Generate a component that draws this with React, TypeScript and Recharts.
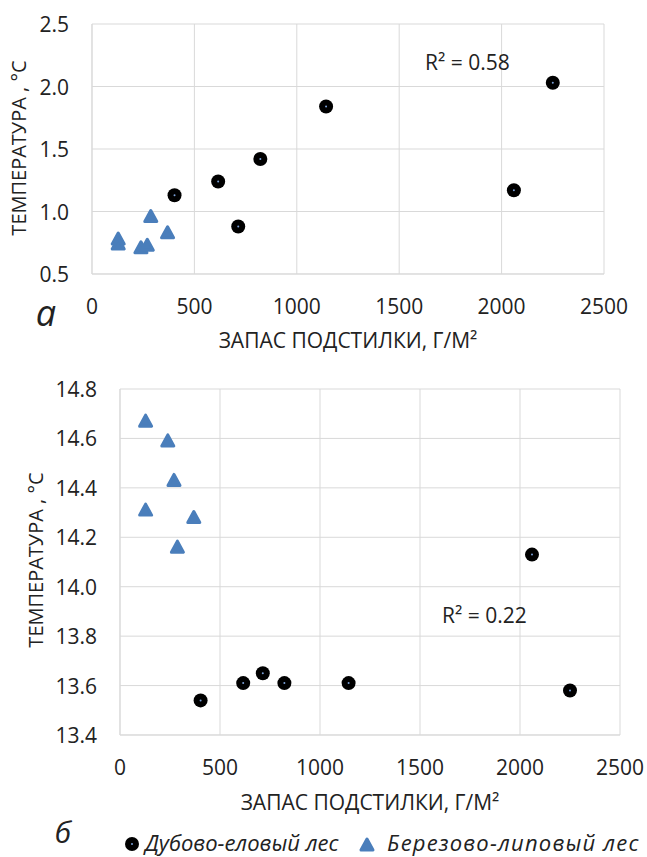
import React from 'react';
import { ScatterChart, Scatter, XAxis, YAxis, CartesianGrid } from 'recharts';

// Litter stock, g/m2 (same plots in both panels)
const oakSpruceX = [403, 616, 714, 822, 1143, 2060, 2250];
const birchLimeX = [128, 239, 270, 128, 369, 287];

// Panel a: temperature difference, °C
const oakSpruceA = [1.13, 1.24, 0.88, 1.42, 1.84, 1.17, 2.03];
const birchLimeA = [0.78, 0.71, 0.73, 0.74, 0.83, 0.96];

// Panel б: temperature, °C
const oakSpruceB = [13.54, 13.61, 13.65, 13.61, 13.61, 14.13, 13.58];
const birchLimeB = [14.67, 14.59, 14.43, 14.31, 14.28, 14.16];

const xTicks = [0, 500, 1000, 1500, 2000, 2500];
const yTicksA = [0.5, 1.0, 1.5, 2.0, 2.5];
const yTicksB = [13.4, 13.6, 13.8, 14.0, 14.2, 14.4, 14.6, 14.8];

const FONT = '"Open Sans", "Noto Sans", sans-serif';
const TXT = '#222';
const GRID = '#d9d9d9';
const BLUE = '#4a7ebb';

const toPoints = (xs: number[], ys: number[]) => xs.map((x, i) => ({ x, y: ys[i] }));

const Dot = ({ cx, cy }: any) => (
  <g>
    <circle cx={cx} cy={cy} r={7} fill="#000" />
    <circle cx={cx} cy={cy} r={1} fill="#7aa0d8" />
  </g>
);

const Tri = ({ cx, cy }: any) => (
  <path
    d={`M${cx},${cy - 6} L${cx + 6},${cy + 5} L${cx - 6},${cy + 5} Z`}
    fill={BLUE}
    stroke={BLUE}
    strokeWidth={3}
    strokeLinejoin="round"
  />
);

const XTick = ({ x, y, payload }: any) => (
  <text x={x} y={y + 32} textAnchor="middle" dominantBaseline="central" fontSize={21} fontFamily={FONT} fill={TXT}>
    {payload.value}
  </text>
);

const YTick = ({ x, y, payload }: any) => (
  <text x={x - 23} y={y} textAnchor="end" dominantBaseline="central" fontSize={21} fontFamily={FONT} fill={TXT}>
    {Number(payload.value).toFixed(1)}
  </text>
);

const abs = (style: React.CSSProperties): React.CSSProperties => ({
  position: 'absolute',
  fontFamily: FONT,
  color: TXT,
  whiteSpace: 'nowrap',
  lineHeight: 1,
  ...style,
});

function Panel({ dots, tris, yTicks, domain, height, yWidth, right }: any) {
  return (
    <ScatterChart width={647} height={height} margin={{ top: 24, right, bottom: 0, left: 0 }}>
      <CartesianGrid stroke={GRID} />
      <XAxis
        type="number"
        dataKey="x"
        domain={[0, 2500]}
        ticks={xTicks}
        tick={<XTick />}
        tickSize={0}
        tickMargin={0}
        tickLine={false}
        axisLine={{ stroke: GRID }}
        height={46}
      />
      <YAxis
        type="number"
        dataKey="y"
        domain={domain}
        ticks={yTicks}
        tick={<YTick />}
        tickSize={0}
        tickMargin={0}
        tickLine={false}
        axisLine={{ stroke: GRID }}
        width={yWidth}
      />
      <Scatter data={dots} shape={<Dot />} isAnimationActive={false} />
      <Scatter data={tris} shape={<Tri />} isAnimationActive={false} />
    </ScatterChart>
  );
}

export default function App() {
  return (
    <div style={{ position: 'absolute', left: 0, top: 0, width: 647, height: 857, background: '#fff', overflow: 'hidden' }}>
      {/* panel a: plot 92..604 x 24..274 */}
      <div style={{ position: 'absolute', left: 0, top: 0 }}>
        <Panel
          dots={toPoints(oakSpruceX, oakSpruceA)}
          tris={toPoints(birchLimeX, birchLimeA)}
          yTicks={yTicksA}
          domain={[0.5, 2.5]}
          height={320}
          yWidth={92}
          right={43}
        />
      </div>
      {/* panel б: plot 120..620 x 389..735 */}
      <div style={{ position: 'absolute', left: 0, top: 365 }}>
        <Panel
          dots={toPoints(oakSpruceX, oakSpruceB)}
          tris={toPoints(birchLimeX, birchLimeB)}
          yTicks={yTicksB}
          domain={[13.4, 14.8]}
          height={416}
          yWidth={120}
          right={27}
        />
      </div>

      <div style={abs({ left: 425, top: 52, fontSize: 21 })}>R² = 0.58</div>
      <div style={abs({ left: 442, top: 605, fontSize: 21 })}>R² = 0.22</div>

      <div style={abs({ left: 348, top: 340, fontSize: 21, transform: 'translate(-50%, -50%)' })}>ЗАПАС ПОДСТИЛКИ, Г/М²</div>
      <div style={abs({ left: 370, top: 802, fontSize: 21, transform: 'translate(-50%, -50%)' })}>ЗАПАС ПОДСТИЛКИ, Г/М²</div>

      <div style={abs({ left: 19, top: 148, fontSize: 20, transform: 'translate(-50%, -50%) rotate(-90deg)' })}>ТЕМПЕРАТУРА , °C</div>
      <div style={abs({ left: 36, top: 560, fontSize: 20, transform: 'translate(-50%, -50%) rotate(-90deg)' })}>ТЕМПЕРАТУРА , °C</div>

      <div style={abs({ left: 46, top: 313, fontSize: 36, lineHeight: 0.55, fontStyle: 'italic', transform: 'translate(-50%, -50%)' })}>а</div>
      <div style={abs({ left: 63, top: 832, fontSize: 30, fontStyle: 'italic', transform: 'translate(-50%, -50%)' })}>б</div>

      {/* legend */}
      <svg style={{ position: 'absolute', left: 0, top: 0 }} width={647} height={857}>
        <Dot cx={132} cy={844} />
        <Tri cx={367} cy={845} />
      </svg>
      <div style={abs({ left: 145, top: 831, fontSize: 22, fontStyle: 'italic' })}>Дубово-еловый лес</div>
      <div style={abs({ left: 387, top: 831, fontSize: 22, letterSpacing: 1.2, fontStyle: 'italic' })}>Березово-липовый лес</div>
    </div>
  );
}
